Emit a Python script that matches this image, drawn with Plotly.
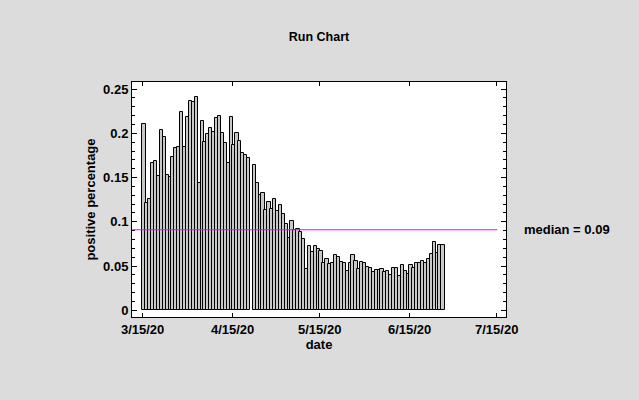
import numpy as np
import pandas as pd
import plotly.graph_objects as go

# ---- data (daily positive percentage, first day 2020-03-15; None = no bar) ----
start_date = "2020-03-15"
positive_pct = [
    0.211, 0.121, 0.126, 0.166, 0.169, 0.152, 0.204, 0.196, 0.153, 0.151,
    0.173, 0.183, 0.184, 0.224, 0.184, 0.219, 0.237, 0.235, 0.241, 0.144,
    0.214, 0.190, 0.199, 0.206, 0.202, 0.217, 0.220, 0.200, 0.189, 0.167,
    0.219, 0.187, 0.200, 0.191, 0.178, 0.176, 0.172, None, 0.164,
    0.144, 0.130, 0.133, 0.113, 0.122, 0.114, 0.126, 0.112, 0.119, 0.109,
    0.097, 0.082, 0.101, 0.091, 0.092, 0.089, 0.080, 0.047, 0.073, 0.066,
    0.073, 0.069, 0.067, 0.054, 0.058, 0.052, 0.053, 0.063, 0.060, 0.055,
    0.054, 0.044, 0.054, 0.062, 0.056, 0.047, 0.055, 0.054, 0.049, 0.048,
    0.043, 0.045, 0.046, 0.047, 0.043, 0.044, 0.040, 0.048, 0.048, 0.039,
    0.051, 0.044, 0.041, 0.051, 0.048, 0.053, 0.054, 0.056, 0.053, 0.058,
    0.064, 0.077, 0.065, 0.074, 0.074,
]
tick_dates = ["2020-03-15", "2020-04-15", "2020-05-15", "2020-06-15", "2020-07-15"]
tick_labels = ["3/15/20", "4/15/20", "5/15/20", "6/15/20", "7/15/20"]
y_ticks = [0, 0.05, 0.1, 0.15, 0.2, 0.25]
y_tick_labels = ["0", "0.05", "0.1", "0.15", "0.2", "0.25"]

# ---- derived ----
dates = pd.date_range(start_date, periods=len(positive_pct), freq="D")
vals = np.array([np.nan if v is None else v for v in positive_pct], dtype=float)
median_val = float(np.nanmedian(vals))

FONT = "Liberation Sans, Arial, sans-serif"
DAY_MS = 24 * 3600 * 1000

fig = go.Figure()
fig.add_bar(
    x=dates + pd.Timedelta(hours=12),
    y=positive_pct,
    width=DAY_MS * 1.12,
    marker=dict(color="#C8C8C8", line=dict(color="black", width=1)),
    showlegend=False,
)

# median reference line
fig.add_shape(
    type="line", xref="paper", yref="y",
    x0=0, x1=0.977, y0=median_val, y1=median_val,
    line=dict(color="#FF00FF", width=1),
)
fig.add_annotation(
    xref="paper", yref="y", x=1.044, y=median_val,
    xanchor="left", yanchor="middle", showarrow=False,
    text=f"median = {median_val:.2f}",
    font=dict(family=FONT, size=13, color="black", weight="bold"),
)

axis_common = dict(
    showline=True, linecolor="black", linewidth=1, mirror="ticks",
    ticks="inside", tickcolor="black", showgrid=False, zeroline=False,
    tickfont=dict(family=FONT, size=13, color="black", weight="bold"),
)

fig.update_layout(
    width=639, height=400,
    margin=dict(l=132, r=133, t=82, b=83),
    paper_bgcolor="#DCDCDC", plot_bgcolor="white",
    bargap=0,
    title=dict(
        text="Run Chart", x=0.5, xref="paper", xanchor="center",
        y=1 - 36.5 / 400, yref="container", yanchor="middle",
        font=dict(family=FONT, size=12.5, color="black", weight="bold"),
    ),
    xaxis=dict(
        type="date",
        range=["2020-03-11 08:00", "2020-07-18 05:00"],
        tickvals=tick_dates, ticktext=tick_labels, ticklen=4,
        title=dict(text="date", standoff=4,
                   font=dict(family=FONT, size=13, color="black", weight="bold")),
        **axis_common,
    ),
    yaxis=dict(
        range=[-0.0076, 0.258],
        tickvals=y_ticks, ticktext=y_tick_labels, ticklen=5,
        minor=dict(dtick=0.01, tick0=0, ticks="inside", ticklen=3, tickcolor="black"),
        title=dict(text="positive percentage", standoff=4,
                   font=dict(family=FONT, size=13, color="black", weight="bold")),
        **axis_common,
    ),
)

fig.write_html(
    "out.html",
    config={"displayModeBar": False},
    post_script="document.body.style.margin='0';document.body.style.overflow='hidden';",
)
